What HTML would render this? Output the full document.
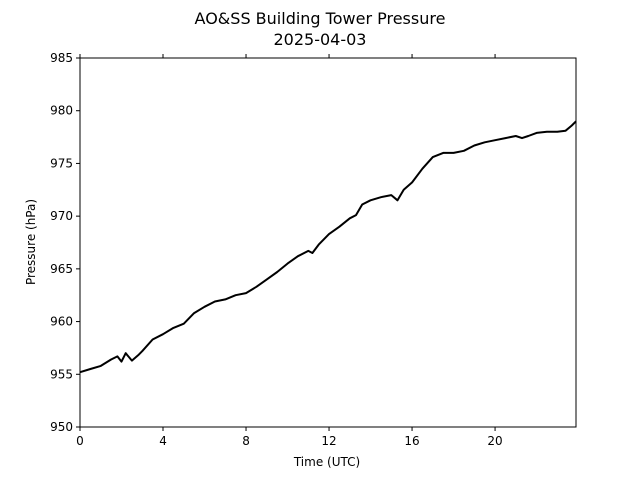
<!DOCTYPE html>
<html><head><meta charset="utf-8">
<style>
body{margin:0;background:#fff;}
svg{display:block;font-family:"DejaVu Sans","Liberation Sans",sans-serif;}
</style></head>
<body>
<svg id="chart" width="640" height="480">
<text x="320" y="24" font-size="16" text-anchor="middle">AO&amp;SS Building Tower Pressure</text>
<text x="320" y="45" font-size="16" text-anchor="middle">2025-04-03</text>
<g id="axes"></g>
<path id="line" fill="none" stroke="#000" stroke-width="2" stroke-linejoin="round"></path>
<rect x="80" y="58" width="496" height="369" fill="none" stroke="#000" stroke-width="1"/>
<text x="327" y="466" font-size="12" text-anchor="middle">Time (UTC)</text>
<text x="35" y="242" font-size="12" text-anchor="middle" transform="rotate(-90 35 242)">Pressure (hPa)</text>
</svg>
<script>
const times = [0,0.5,1,1.5,1.8,2,2.2,2.5,2.8,3,3.5,4,4.5,5,5.5,6,6.5,7,7.5,8,8.5,9,9.5,10,10.5,11,11.2,11.5,12,12.5,13,13.3,13.6,14,14.5,15,15.3,15.6,16,16.5,17,17.5,18,18.5,19,19.5,20,20.5,21,21.3,21.6,22,22.5,23,23.4,23.7,23.9];
const pressure = [955.2,955.5,955.8,956.4,956.7,956.2,957.0,956.3,956.8,957.2,958.3,958.8,959.4,959.8,960.8,961.4,961.9,962.1,962.5,962.7,963.3,964.0,964.7,965.5,966.2,966.7,966.5,967.3,968.3,969.0,969.8,970.1,971.1,971.5,971.8,972.0,971.5,972.5,973.2,974.5,975.6,976.0,976.0,976.2,976.7,977.0,977.2,977.4,977.6,977.4,977.6,977.9,978.0,978.0,978.1,978.6,979.0];
const yTicks = [950,955,960,965,970,975,980,985];
const xTicks = [0,4,8,12,16,20];
const X0=80,X1=576,Y0=427,Y1=58,XMAX=23.9;
const xs=t=>X0+t/XMAX*(X1-X0);
const ys=p=>Y0-(p-950)/35*(Y0-Y1);
const NS="http://www.w3.org/2000/svg";
const ax=document.getElementById('axes');
yTicks.forEach(v=>{
  const y=ys(v);
  const l=document.createElementNS(NS,'line');
  l.setAttribute('x1',X0-4);l.setAttribute('x2',X0);l.setAttribute('y1',y);l.setAttribute('y2',y);l.setAttribute('stroke','#000');
  
  
  ax.appendChild(l);
  const t=document.createElementNS(NS,'text');
  t.setAttribute('x',X0-7);t.setAttribute('y',y+4);t.setAttribute('font-size','12');t.setAttribute('text-anchor','end');
  t.textContent=v;
  
  
  ax.appendChild(t);
});
xTicks.forEach(v=>{
  const x=xs(v);
  [[Y0,Y0+4],[Y1,Y1+4]].forEach(p=>{
    const l=document.createElementNS(NS,'line');
    l.setAttribute('x1',x);l.setAttribute('x2',x);l.setAttribute('y1',p[0]);l.setAttribute('y2',p[1]);l.setAttribute('stroke','#000');
    if(p[0]===Y1){l.setAttribute('y1',Y1);l.setAttribute('y2',Y1-4);}
    
    
    ax.appendChild(l);
  });
  const t=document.createElementNS(NS,'text');
  t.setAttribute('x',x);t.setAttribute('y',Y0+18);t.setAttribute('font-size','12');t.setAttribute('text-anchor','middle');
  t.textContent=v;
  
  
  ax.appendChild(t);
});
document.getElementById('line').setAttribute('d',times.map((t,i)=>(i?'L':'M')+xs(t).toFixed(1)+','+ys(pressure[i]).toFixed(1)).join(''));
</script>
</body></html>
